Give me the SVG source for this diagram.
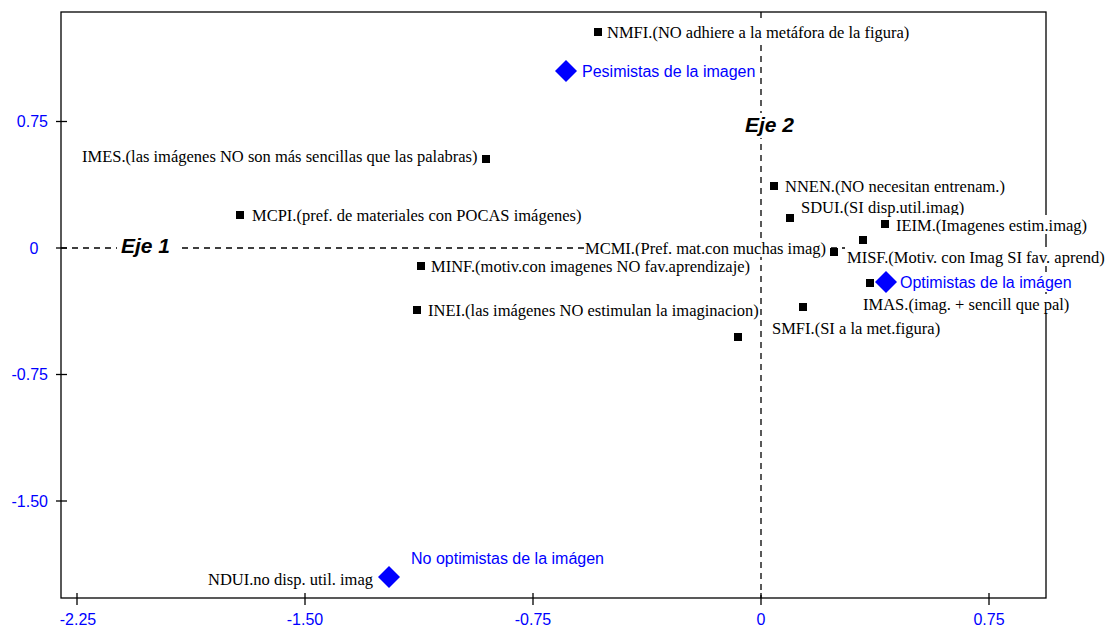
<svg xmlns="http://www.w3.org/2000/svg" width="1112" height="628" viewBox="0 0 1112 628">
<style>
.frame{fill:none;stroke:#000;stroke-width:1.3}
.dash{fill:none;stroke:#000;stroke-width:1.3;stroke-dasharray:6 5}
.tick{stroke:#000;stroke-width:1.3}
.ax{font-family:"Liberation Sans",Arial,sans-serif;font-size:16px;fill:#0000ff}
.lb{font-family:"Liberation Serif","Times New Roman",serif;font-size:16.5px;fill:#000}
.bl{font-family:"Liberation Sans",Arial,sans-serif;font-size:16px;fill:#0000ff}
.eje{font-family:"Liberation Sans",Arial,sans-serif;font-size:21px;font-weight:bold;font-style:italic;fill:#000}
.bg{fill:#fff}
.sq{fill:#000}
.dm{fill:#0000ff}
</style>
<rect width="1112" height="628" fill="#fff"/>
<g id="frame">
<rect class="frame" x="61" y="12" width="985" height="586"/>
</g>
<g id="connectors">
<line class="dash" x1="61" y1="248" x2="1046" y2="248"/>
<line class="dash" x1="761" y1="12" x2="761" y2="598"/>
</g>
<g id="axes">
<line class="tick" x1="56" y1="121.5" x2="67" y2="121.5"/>
<line class="tick" x1="56" y1="248" x2="67" y2="248"/>
<line class="tick" x1="56" y1="374.5" x2="67" y2="374.5"/>
<line class="tick" x1="56" y1="501" x2="67" y2="501"/>
<text class="ax" x="48" y="127" text-anchor="end">0.75</text>
<text class="ax" x="34" y="254" text-anchor="middle">0</text>
<text class="ax" x="48" y="380" text-anchor="end">-0.75</text>
<text class="ax" x="48" y="507" text-anchor="end">-1.50</text>
<line class="tick" x1="77" y1="593" x2="77" y2="605"/>
<line class="tick" x1="305" y1="593" x2="305" y2="605"/>
<line class="tick" x1="533" y1="593" x2="533" y2="605"/>
<line class="tick" x1="761" y1="593" x2="761" y2="605"/>
<line class="tick" x1="989" y1="593" x2="989" y2="605"/>
<text class="ax" x="78" y="625" text-anchor="middle">-2.25</text>
<text class="ax" x="305" y="625" text-anchor="middle">-1.50</text>
<text class="ax" x="533" y="625" text-anchor="middle">-0.75</text>
<text class="ax" x="761" y="625" text-anchor="middle">0</text>
<text class="ax" x="989" y="625" text-anchor="middle">0.75</text>
</g>
<g id="eje1">
<rect class="bg" x="117" y="234" width="60" height="24"/>
<text class="eje" x="121" y="253">Eje 1</text>
</g>
<g id="eje2">
<rect class="bg" x="742" y="113" width="56" height="25"/>
<text class="eje" x="745" y="132">Eje 2</text>
</g>
<g id="NMFI">
<rect class="bg" x="606" y="23" width="313" height="19"/>
<rect class="sq" x="594" y="28" width="8" height="8"/>
<text class="lb" x="607" y="38">NMFI.(NO adhiere a la metáfora de la figura)</text>
</g>
<g id="pesimistas">
<polygon class="dm" points="566,60 577,71 566,82 555,71"/>
<text class="bl" x="582" y="77">Pesimistas de la imagen</text>
</g>
<g id="IMES">
<rect class="bg" x="81" y="146" width="398" height="19"/>
<rect class="sq" x="482" y="155" width="8" height="8"/>
<text class="lb" x="82" y="162">IMES.(las imágenes NO son más sencillas que las palabras)</text>
</g>
<g id="MCPI">
<rect class="bg" x="251" y="205" width="334" height="19"/>
<rect class="sq" x="236" y="211" width="8" height="8"/>
<text class="lb" x="252" y="221">MCPI.(pref. de materiales con POCAS imágenes)</text>
</g>
<g id="NNEN">
<rect class="bg" x="784" y="176" width="223" height="19"/>
<rect class="sq" x="770" y="182" width="8" height="8"/>
<text class="lb" x="785" y="192">NNEN.(NO necesitan entrenam.)</text>
</g>
<g id="SDUI">
<rect class="bg" x="800" y="197" width="167" height="19"/>
<rect class="sq" x="786" y="214" width="8" height="8"/>
<text class="lb" x="801" y="213">SDUI.(SI disp.util.imag)</text>
</g>
<g id="IEIM">
<rect class="bg" x="895" y="215" width="194" height="19"/>
<rect class="sq" x="881" y="220" width="8" height="8"/>
<text class="lb" x="896" y="231">IEIM.(Imagenes estim.imag)</text>
</g>
<g id="MCMI">
<rect class="bg" x="584" y="238" width="244" height="19"/>
<rect class="sq" x="830" y="248" width="8" height="8"/>
<text class="lb" x="585" y="254">MCMI.(Pref. mat.con muchas imag)</text>
</g>
<g id="MISF">
<rect class="bg" x="845" y="247" width="237" height="19"/>
<rect class="sq" x="859" y="236" width="8" height="8"/>
<text class="lb" x="847" y="263">MISF.(Motiv. con Imag SI fav. aprend)</text>
</g>
<g id="MINF">
<rect class="bg" x="430" y="256" width="327" height="19"/>
<rect class="sq" x="417" y="262" width="8" height="8"/>
<text class="lb" x="431" y="272">MINF.(motiv.con imagenes NO fav.aprendizaje)</text>
</g>
<g id="IMAS">
<rect class="bg" x="862" y="294" width="210" height="19"/>
<rect class="sq" x="866" y="279" width="8" height="8"/>
<text class="lb" x="863" y="310">IMAS.(imag. + sencill que pal)</text>
</g>
<g id="optimistas">
<rect class="bg" x="899" y="272" width="175" height="20"/>
<polygon class="dm" points="886,271 897,282 886,293 875,282"/>
<text class="bl" x="900" y="288">Optimistas de la imágen</text>
</g>
<g id="INEI">
<rect class="bg" x="427" y="300" width="332" height="19"/>
<rect class="sq" x="413" y="306" width="8" height="8"/>
<text class="lb" x="428" y="316">INEI.(las imágenes NO estimulan la imaginacion)</text>
</g>
<g id="SMFI">
<rect class="bg" x="771" y="318" width="184" height="19"/>
<rect class="sq" x="799" y="303" width="8" height="8"/>
<rect class="sq" x="734" y="333" width="8" height="8"/>
<text class="lb" x="772" y="334">SMFI.(SI a la met.figura)</text>
</g>
<g id="NDUI">
<text class="lb" x="208" y="585">NDUI.no disp. util. imag</text>
</g>
<g id="no-optimistas">
<polygon class="dm" points="389,566 400,577 389,588 378,577"/>
<text class="bl" x="411" y="564">No optimistas de la imágen</text>
</g>
</svg>
